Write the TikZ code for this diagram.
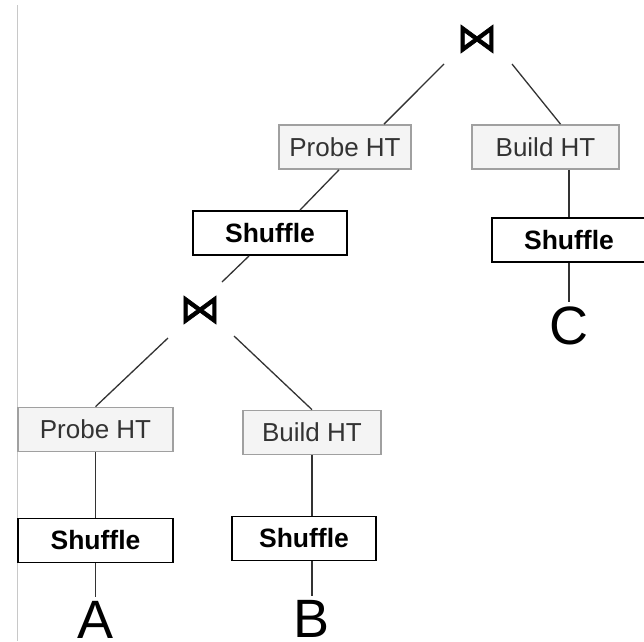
\documentclass[tikz,border=0pt]{standalone}
\usepackage{fontspec}
\setmainfont{Liberation Sans}
\newfontfamily\symfont[FakeBold=1.6]{DejaVu Sans}
\definecolor{htfill}{HTML}{F4F4F4}
\definecolor{htborder}{HTML}{A0A0A0}
\definecolor{httext}{HTML}{333333}
\definecolor{edgecol}{HTML}{333333}
\definecolor{framecol}{HTML}{C8C8C8}
\begin{document}
\begin{tikzpicture}[x=1pt,y=-1pt,
  htbox/.style={draw=htborder, fill=htfill, line width=1.7pt, text=httext,
    font=\fontsize{26}{30}\selectfont, minimum height=44pt, inner sep=0pt},
  shufbox/.style={draw=black, fill=white, line width=1.9pt,
    font=\fontsize{26.5}{30}\selectfont\bfseries, minimum height=44pt, inner sep=0pt},
  leaf/.style={font=\fontsize{54}{60}\selectfont, inner sep=0pt, anchor=base},
  joinsym/.style={font=\symfont\fontsize{41}{41}\selectfont, inner sep=0pt},
  edge/.style={draw=edgecol, line width=1.3pt}]
\useasboundingbox (0,0) rectangle (644,641);
\clip (0,0) rectangle (644,641);
\fill[white] (0,0) rectangle (644,641);
% frame line on the left
\draw[framecol, line width=1pt] (17,5) -- (17,641);

% upper join and its inputs
\node[joinsym] (j1) at (477,39) {⋈};
\node[htbox, minimum width=132pt] (p1) at (345,147) {Probe HT};
\node[htbox, minimum width=147pt] (b1) at (545.5,147) {Build HT};
\node[shufbox, minimum width=154pt] (s1) at (270,233) {Shuffle};
\node[shufbox, minimum width=154pt] (s4) at (569,240) {Shuffle};
\node[leaf] (c) at (569,344) {C};

% lower join and its inputs
\node[joinsym] (j2) at (200,310) {⋈};
\node[htbox, minimum width=155pt] (p2) at (95.5,429.5) {Probe HT};
\node[htbox, minimum width=138pt] (b2) at (312,432.5) {Build HT};
\node[shufbox, minimum width=155pt] (s2) at (95.5,540.5) {Shuffle};
\node[shufbox, minimum width=144pt] (s3) at (304,538.5) {Shuffle};
\node[leaf] (a) at (95.5,638) {A};
\node[leaf] (b) at (312,637) {B};

% connectors
\draw[edge] ([shift={(-33,25)}]j1.center) -- ([xshift=39pt]p1.north);
\draw[edge] ([shift={(35,25)}]j1.center) -- ([xshift=15pt]b1.north);
\draw[edge] ([xshift=-6pt]p1.south) -- ([xshift=30pt]s1.north);
\draw[edge] ([xshift=-21pt]s1.south) -- ([shift={(22,-28)}]j2.center);
\draw[edge] ([xshift=23.5pt]b1.south) -- (s4.north);
\draw[edge, shorten >=4pt] (s4.south) -- (c.north);
\draw[edge] ([shift={(-32,28)}]j2.center) -- (p2.north);
\draw[edge] ([shift={(34,26)}]j2.center) -- (b2.north);
\draw[edge] (p2.south) -- (s2.north);
\draw[edge, shorten >=4pt] (s2.south) -- (a.north);
\draw[edge] (b2.south) -- ([xshift=8pt]s3.north);
\draw[edge, shorten >=4pt] ([xshift=8pt]s3.south) -- (b.north);
\end{tikzpicture}
\end{document}
